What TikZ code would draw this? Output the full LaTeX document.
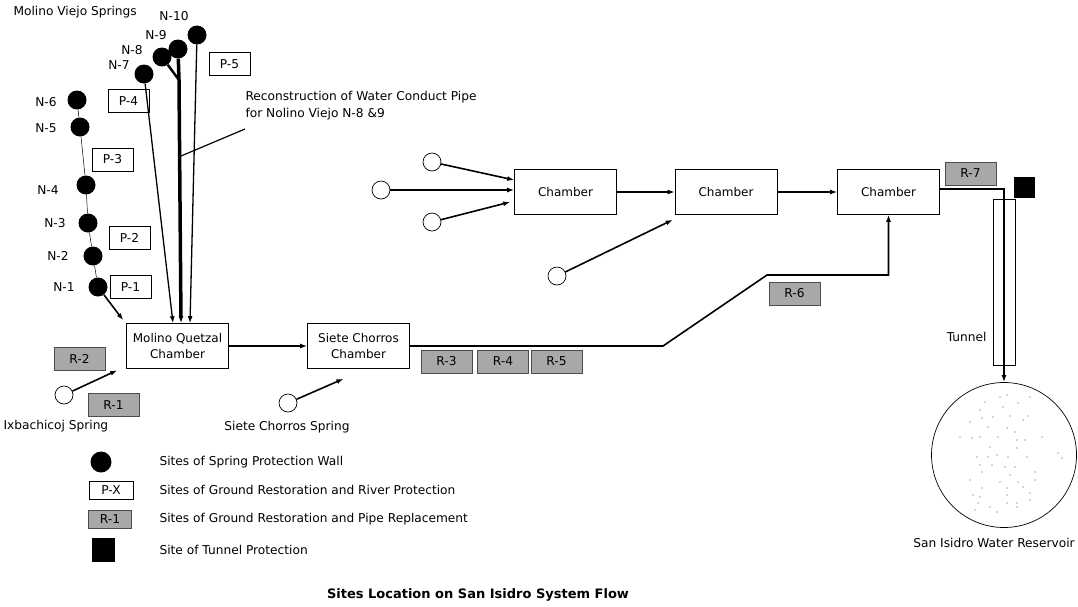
\documentclass[tikz,border=0pt]{standalone}
\usepackage{fontspec}
\setmainfont{DejaVu Sans}
\usetikzlibrary{arrows.meta,calc}
\definecolor{crep}{gray}{0.66}
\tikzset{
  every picture/.style={>={Latex[length=7pt,width=5pt]}, font=\fontsize{12.2}{14.5}\selectfont},
  wall/.style={circle, fill=black, inner sep=0pt, minimum size=19pt},
  spring/.style={circle, draw, line width=0.7pt, inner sep=0pt, minimum size=18pt},
  chamber/.style={draw, line width=0.6pt, minimum width=102pt, minimum height=45pt,
    align=center, font=\fontsize{12}{16}\selectfont},
  pbox/.style={draw, line width=0.6pt, minimum width=41pt, minimum height=23pt, inner sep=0pt},
  rbox/.style={draw=gray!60!black, fill=crep, line width=0.6pt, minimum width=51pt,
    minimum height=23pt, inner sep=0pt},
  feed/.style={->, line width=1.6pt},
  pipe/.style={line width=1.3pt},
  mainpipe/.style={line width=3.5pt},
}

\begin{document}
\begin{tikzpicture}[x=1pt, y=-1pt]
  \path[use as bounding box] (0,0) rectangle (1078,606);

  % Molino Viejo springs
  \node[anchor=west] (mvs) at (10,12) {Molino Viejo Springs};
  \node[wall] (n10) at (197,35) {};
  \node[wall] (n9) at (178,49) {};
  \node[wall] (n8) at (162,57) {};
  \node[wall] (n7) at (144,74) {};
  \node[wall] (n6) at (77,100) {};
  \node[wall] (n5) at (80,127) {};
  \node[wall] (n4) at (86,185) {};
  \node[wall] (n3) at (88,223) {};
  \node[wall] (n2) at (93,256) {};
  \node[wall] (n1) at (98,287) {};
  \node (l10) at (174,16) {N-10};
  \node (l9) at (156,35) {N-9};
  \node (l8) at (132,50) {N-8};
  \node (l7) at (119,65) {N-7};
  \node (l6) at (46,102) {N-6};
  \node (l5) at (46,128) {N-5};
  \node (l4) at (48,190) {N-4};
  \node (l3) at (55,223) {N-3};
  \node (l2) at (58,256) {N-2};
  \node (l1) at (64,287) {N-1};

  \node[pbox] (p5) at (229.5,64) {P-5};
  \node[pbox] (p4) at (128.5,101) {P-4};
  \node[pbox] (p3) at (112.5,159.5) {P-3};
  \node[pbox] (p2) at (129.5,237.5) {P-2};
  \node[pbox] (p1) at (130.5,287) {P-1};

  % chambers
  \node[chamber] (mq) at (177.5,346) {Molino Quetzal\\Chamber};
  \node[chamber] (sc) at (358.5,346) {Siete Chorros\\Chamber};
  \node[chamber] (c1) at (565.5,192) {Chamber};
  \node[chamber] (c2) at (726,192) {Chamber};
  \node[chamber] (c3) at (888.5,192) {Chamber};

  % pipes into Molino Quetzal
  \draw[line width=0.5pt] (n6) -- (n5) -- (n4) -- (n3) -- (n2) -- (n1);
  \draw[feed] (n1) -- ([shift={(-3pt,3pt)}]mq.north west);
  \draw[pipe,->] (n7) -- ([xshift=-4.5pt]mq.north);
  \draw[pipe,->] (n10) -- ([xshift=12.5pt]mq.north);
  \coordinate (jn) at (179,80);
  \draw[mainpipe] (n9) -- (jn);
  \draw[line width=2.5pt] (n8) -- (jn);
  \draw[mainpipe,->] (jn) -- ([xshift=3.5pt]mq.north);

  \node[anchor=north west, align=left] (recon) at (242,88)
    {Reconstruction of Water Conduct Pipe\\[2pt]for Nolino Viejo N-8 \&9};
  \coordinate (rp) at (181,156);
  \coordinate (rq) at (245,129);
  \draw[line width=1.2pt] (rp) -- (rq);

  % Ixbachicoj and Siete Chorros springs
  \node[spring] (ix) at (64,395) {};
  \node[anchor=west] (ixl) at (0,426) {Ixbachicoj Spring};
  \draw[feed] (ix) -- ([shift={(-9pt,-1.5pt)}]mq.south west);
  \node[spring] (scs) at (288,403) {};
  \node (scsl) at (287,427) {Siete Chorros Spring};
  \draw[feed] (scs) -- ([shift={(-15pt,-10pt)}]sc.south);
  \draw[feed] (mq) -- (sc);

  % upper springs
  \node[spring] (s1) at (432,162) {};
  \node[spring] (s2) at (381,190) {};
  \node[spring] (s3) at (432,222) {};
  \node[spring] (s4) at (557,276) {};
  \draw[feed] (s1) -- ([yshift=12pt]c1.west);
  \draw[feed] (s2) -- ([yshift=2pt]c1.west);
  \draw[feed] (s3) -- ([shift={(-4pt,-10pt)}]c1.west);
  \draw[feed] (s4) -- ([shift={(-2pt,-5pt)}]c2.south west);
  \draw[feed] (c1) -- (c2);
  \draw[feed] (c2) -- (c3);

  % Siete Chorros to upper chamber
  \coordinate (b1) at (663,346);
  \coordinate (b2) at (767,275);
  \draw[feed] (sc.east) -- (b1) -- (b2) -| (c3.south);

  \node[rbox] (r1) at (113.5,405) {R-1};
  \node[rbox] (r2) at (79.5,358.5) {R-2};
  \node[rbox] (r3) at (446.5,361.5) {R-3};
  \node[rbox] (r4) at (503,361.5) {R-4};
  \node[rbox] (r5) at (556.5,361.5) {R-5};
  \node[rbox] (r6) at (794.5,293.5) {R-6};
  \node[rbox] (r7) at (970.5,173.5) {R-7};

  % tunnel and reservoir
  \node[draw, line width=0.6pt, minimum width=22pt, minimum height=166pt, inner sep=0pt] (tun) at (1004,282) {};
  \node[anchor=east] (tunl) at (990,337) {Tunnel};
  \node[fill=black, minimum size=21pt, inner sep=0pt] (tp) at (1024,187) {};
  \node[circle, draw, line width=0.7pt, minimum size=145pt, inner sep=0pt] (res) at (1004,455) {};
  \foreach \x/\y in {985/402,1000/397,1007/395,1030/397,980/410,1018/403,1003/407,982/418,
      993/417,1010/416,1028/416,970/422,988/427,1007/428,1023/420,960/437,972/438,980/437,
      998/437,1015/432,1017/440,1025/440,1042/437,990/447,1017/448,977/457,988/457,997/455,
      1008/457,1027/457,1058/453,1062/458,980/465,992/465,1005/467,1015/467,982/472,1035/472,
      1010/475,970/480,1000/482,1018/482,1035/480,982/488,1007/488,1023/487,1030/493,973/495,
      980/497,1007/495,1030/500,978/503,990/507,1007/503,1017/503,975/510,997/512,1017/507}
    \fill[black!70] (\x,\y) circle (0.6pt);
  \node (resl) at (994,543) {San Isidro Water Reservoir};
  \draw[feed] ([yshift=3pt]c3.east) -| (res.north);

  % legend
  \node[wall, minimum size=21pt] (lg1) at (101,462) {};
  \node[pbox, minimum width=44pt, minimum height=18pt] (lg2) at (111,490) {P-X};
  \node[rbox, minimum width=43pt, minimum height=18pt] (lg3) at (110,519) {R-1};
  \node[fill=black, minimum width=23pt, minimum height=24pt, inner sep=0pt] (lg4) at (103,550) {};
  \node[anchor=west] (lt1) at (156,462) {Sites of Spring Protection Wall};
  \node[anchor=west] (lt2) at (156,490) {Sites of Ground Restoration and River Protection};
  \node[anchor=west] (lt3) at (156,519) {Sites of Ground Restoration and Pipe Replacement};
  \node[anchor=west] (lt4) at (156,550) {Site of Tunnel Protection};

  \node[font=\fontsize{13}{15}\selectfont\bfseries] (title) at (478,595) {Sites Location on San Isidro System Flow};
\end{tikzpicture}
\end{document}
